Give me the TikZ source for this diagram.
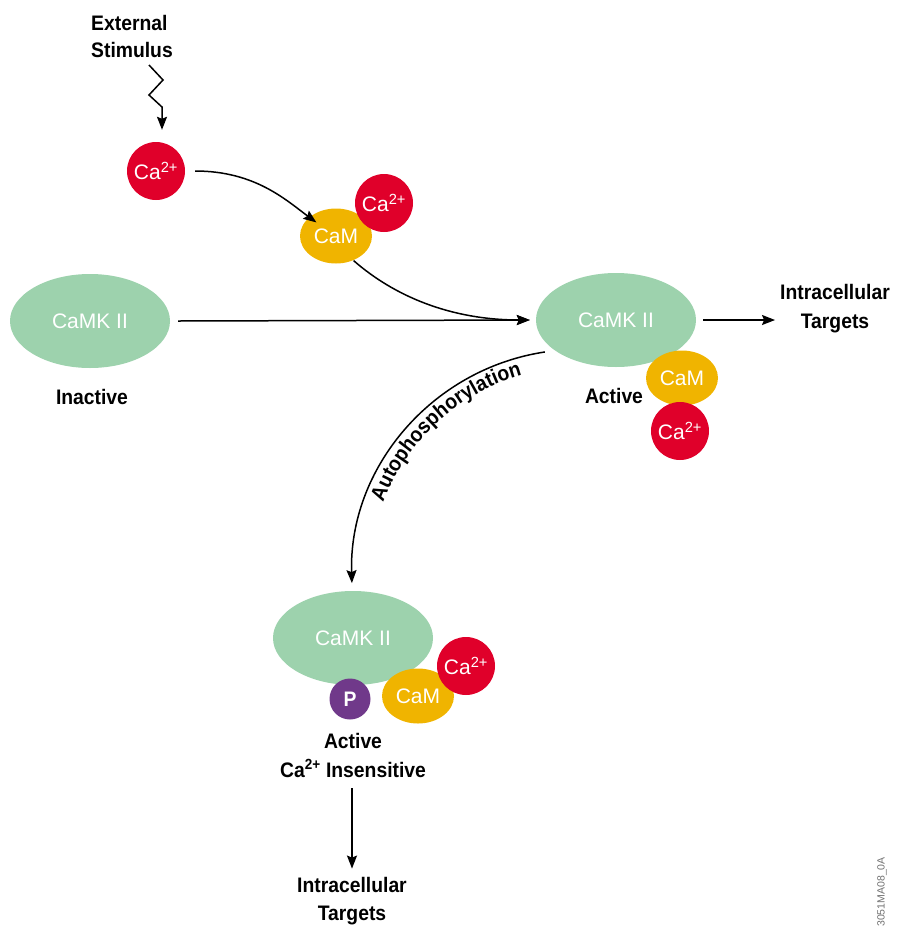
\documentclass[tikz,border=0pt]{standalone}
\usepackage{fontspec}
\setmainfont{Liberation Sans}
\newfontfamily\lblfont{Liberation Sans Bold}[FakeStretch=0.92]
\usetikzlibrary{shapes.geometric,arrows.meta,decorations.text}
\definecolor{cared}{HTML}{E0002A}
\definecolor{camorange}{HTML}{F0B400}
\definecolor{kgreen}{HTML}{9DD2AD}
\definecolor{ppurple}{HTML}{70398A}
\definecolor{wmgray}{HTML}{707070}
\tikzset{
  every node/.style={font=\fontsize{21}{25}\selectfont},
  lbl/.style={font=\lblfont\fontsize{21}{25}\selectfont, text=black, anchor=base, inner sep=0pt},
  kin/.style={ellipse, fill=kgreen, minimum width=160pt, minimum height=94pt, inner sep=0pt, text=white},
  cam/.style={ellipse, fill=camorange, minimum width=72pt, minimum height=55pt, inner sep=0pt, text=white},
  ca/.style={circle, fill=cared, minimum size=58pt, inner sep=0pt, text=white},
  pho/.style={circle, fill=ppurple, minimum size=41pt, inner sep=0pt, text=white, font=\lblfont\fontsize{21}{25}\selectfont},
  arr/.style={-{Stealth[length=13pt,width=10pt,inset=2pt]}, line width=1.5pt},
}
\newcommand{\catwo}{Ca\textsuperscript{2+}}
\begin{document}
\begin{tikzpicture}[x=1pt,y=1pt]
\useasboundingbox (0,0) rectangle (909,-930);

% top: stimulus
\node[lbl, anchor=base west] (ext1) at (91,-30) {External};
\node[lbl, anchor=base west] (ext2) at (91,-57) {Stimulus};
\node[ca] (ca1) at (156,-171) {\catwo};
\coordinate (zz0) at (149,-65);
\draw[arr] (zz0) -- (163,-80) -- (149,-95) -- (162,-107) -- ([yshift=12pt]ca1.north -| 162,0);

% free CaM + Ca
\node[cam] (cam1) at (336,-236) {CaM};
\node[ca] (ca2) at (384,-203) {\catwo};
\draw[arr] ([xshift=10pt]ca1.east) .. controls +(60,0) and +(-30,22) .. ([shift={(6pt,-6pt)}]cam1.north west);

% inactive kinase
\node[kin] (inact) at (90,-321) {CaMK II};
\node[lbl] (inactl) at (92,-404) {Inactive};

% active kinase
\node[kin] (act) at (616,-320) {CaMK II};
\node[cam] (camA) at (682,-378) {CaM};
\node[ca] (caA) at (680,-431) {\catwo};
\node[lbl] (actl) at (614,-403) {Active};

\draw[arr] ([xshift=8pt]inact.east) -- ([xshift=-6pt]act.west);
\draw[arr] ([shift={(-8pt,-5pt)}]cam1.south east) .. controls +(40,-35) and +(-80,0) .. ([xshift=-6pt]act.west);

% targets right
\node[lbl] (tr1) at (835,-299) {Intracellular};
\node[lbl] (tr2) at (835,-328) {Targets};
\draw[arr] ([xshift=7pt]act.east) -- ([xshift=-5pt]tr1.west |- act.east);

% autophosphorylation arc
\coordinate (ac) at (578.8,-576.4);
\draw[arr] (ac) ++(98.6:227) arc[start angle=98.6, end angle=181.7, radius=227];
\path[decorate, decoration={text along path, text align=center,
  text={|\lblfont\fontsize{21}{25}\selectfont|Autophosphorylation}}]
  (ac) ++(165:209) arc[start angle=165, end angle=100, radius=209];

% bottom complex
\node[kin] (bot) at (353,-638) {CaMK II};
\node[pho] (p) at (350,-699) {P};
\node[cam] (camB) at (418,-696) {CaM};
\node[ca] (caB) at (466,-666) {\catwo};
\node[lbl] (botl1) at (353,-748) {Active};
\node[lbl] (botl2) at (353,-777) {\catwo{} Insensitive};

\node[lbl] (tb1) at (352,-892) {Intracellular};
\node[lbl] (tb2) at (352,-920) {Targets};
\draw[arr] ([yshift=-11pt]botl2.base -| 352,0) -- ([yshift=8pt]tb1.north -| 352,0);

% watermark
\node[rotate=90, text=wmgray, font=\fontsize{10.5}{12}\selectfont, inner sep=0pt] (wm) at (882,-892) {3051MA08\_0A};
\end{tikzpicture}
\end{document}
